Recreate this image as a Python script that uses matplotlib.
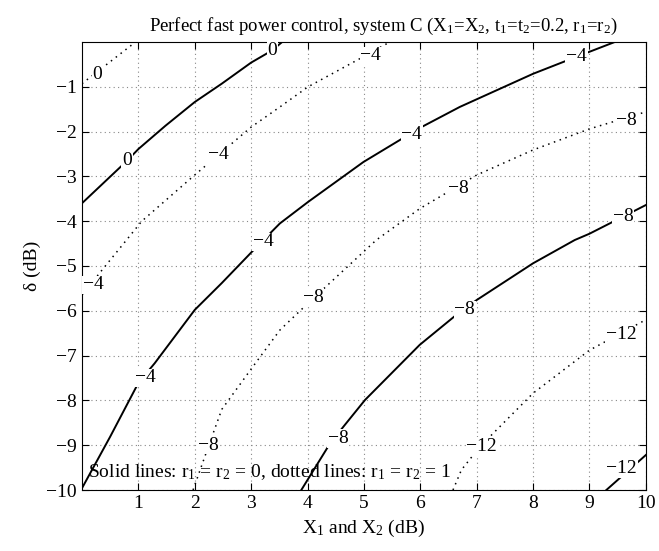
import numpy as np
import matplotlib
matplotlib.use('Agg')
import matplotlib.pyplot as plt

plt.rcParams['font.family'] = ['Liberation Serif', 'DejaVu Serif']
plt.rcParams['mathtext.fontset'] = 'custom'
plt.rcParams['mathtext.rm'] = 'Liberation Serif'
plt.rcParams['mathtext.it'] = 'Liberation Serif:italic'

# contour lines: (X in dB, delta in dB)
# solid lines: r1 = r2 = 0
solid_0_x = [0, 0.8, 1.0, 1.48, 2.0, 2.48, 3.0, 3.37, 3.55]
solid_0_y = [-3.6, -2.65, -2.39, -1.87, -1.34, -0.93, -0.46, -0.19, 0]
solid_4_x = [0, 0.5, 1.0, 1.29, 2.0, 2.48, 3.1, 3.51, 4.01, 4.99, 5.99, 6.7, 8.0, 8.71, 9.45]
solid_4_y = [-9.96, -8.81, -7.61, -7.17, -5.98, -5.38, -4.57, -4.05, -3.57, -2.68, -1.92, -1.45, -0.71, -0.36, 0]
solid_8_x = [3.89, 4.4, 4.66, 5.02, 5.99, 6.64, 7.0, 8.0, 8.74, 9.0, 10]
solid_8_y = [-10, -8.96, -8.55, -7.99, -6.76, -6.09, -5.76, -4.94, -4.42, -4.28, -3.64]
solid_12_x = [9.3, 10]
solid_12_y = [-10, -9.22]

# dotted lines: r1 = r2 = 1
dot_0_x = [0, 0.95]
dot_0_y = [-0.93, 0]
dot_4_x = [0, 0.33, 0.77, 1.06, 1.98, 3.0, 3.51, 4.01, 4.99, 5.46]
dot_4_y = [-5.65, -5.13, -4.45, -4.0, -2.99, -1.9, -1.45, -1.0, -0.33, 0]
dot_8_x = [1.97, 2.25, 2.48, 3.0, 3.51, 4.01, 5.22, 5.99, 7.0, 8.0, 9.0, 10]
dot_8_y = [-10, -9.0, -8.2, -7.3, -6.43, -5.83, -4.42, -3.72, -2.97, -2.41, -1.94, -1.56]
dot_12_x = [6.58, 6.73, 7.06, 8.0, 9.0, 10]
dot_12_y = [-10, -9.55, -9.03, -7.84, -6.88, -6.2]

# contour labels
label_x = [0.27, 0.8, 3.38, 2.42, 1.12, 3.21, 5.85, 8.77, 5.12, 0.2,
           2.25, 4.1, 6.67, 9.66, 4.54, 6.79, 9.6, 7.09, 9.57, 9.57]
label_y = [-0.72, -2.65, -0.19, -2.52, -7.5, -4.46, -2.07, -0.33, -0.31, -5.42,
           -9.0, -5.7, -3.27, -1.75, -8.85, -5.98, -3.9, -9.03, -6.54, -9.52]
label_t = ['0', '0', '0', '\u22124', '\u22124', '\u22124', '\u22124', '\u22124', '\u22124', '\u22124',
           '\u22128', '\u22128', '\u22128', '\u22128', '\u22128', '\u22128', '\u22128',
           '\u221212', '\u221212', '\u221212']

fig = plt.figure(figsize=(6.59, 5.51), dpi=100)
ax = fig.add_axes([0.1244, 0.1107, 0.8556, 0.8131])

for xs, ys in [(solid_0_x, solid_0_y), (solid_4_x, solid_4_y),
               (solid_8_x, solid_8_y), (solid_12_x, solid_12_y)]:
    ax.plot(xs, ys, color='black', lw=1.4, zorder=3)
for xs, ys in [(dot_0_x, dot_0_y), (dot_4_x, dot_4_y),
               (dot_8_x, dot_8_y), (dot_12_x, dot_12_y)]:
    ax.plot(xs, ys, color='black', lw=1.1, linestyle=(0, (1, 3)), zorder=3)

for x, y, t in zip(label_x, label_y, label_t):
    ax.text(x, y, t, fontsize=14, ha='center', va='center', zorder=4,
            bbox=dict(facecolor='white', edgecolor='none', pad=0.5))

ax.text(0.1, -9.6, 'Solid lines: r$_1$ = r$_2$ = 0, dotted lines: r$_1$ = r$_2$ = 1',
        fontsize=14, ha='left', va='center', zorder=5)

ax.set_xlim(0, 10)
ax.set_ylim(-10, 0)
ax.set_xticks(np.arange(1, 11))
ax.set_yticks(np.arange(-10, 0))
ax.set_yticklabels(['\u2212%d' % v for v in range(10, 0, -1)])
ax.tick_params(direction='in', top=True, right=True, labelsize=14, length=5)
ax.grid(True, color='#888888', linestyle=(0, (1, 3)), lw=0.8)
for s in ax.spines.values():
    s.set_linewidth(0.8)

ax.set_title('Perfect fast power control, system C (X$_1$=X$_2$, t$_1$=t$_2$=0.2, r$_1$=r$_2$)',
             fontsize=13.5, pad=8, x=0.535)
ax.set_xlabel('X$_1$ and X$_2$ (dB)', fontsize=14)
ax.set_ylabel('\u03b4 (dB)', fontsize=14)

fig.savefig('out.png', dpi=100)
